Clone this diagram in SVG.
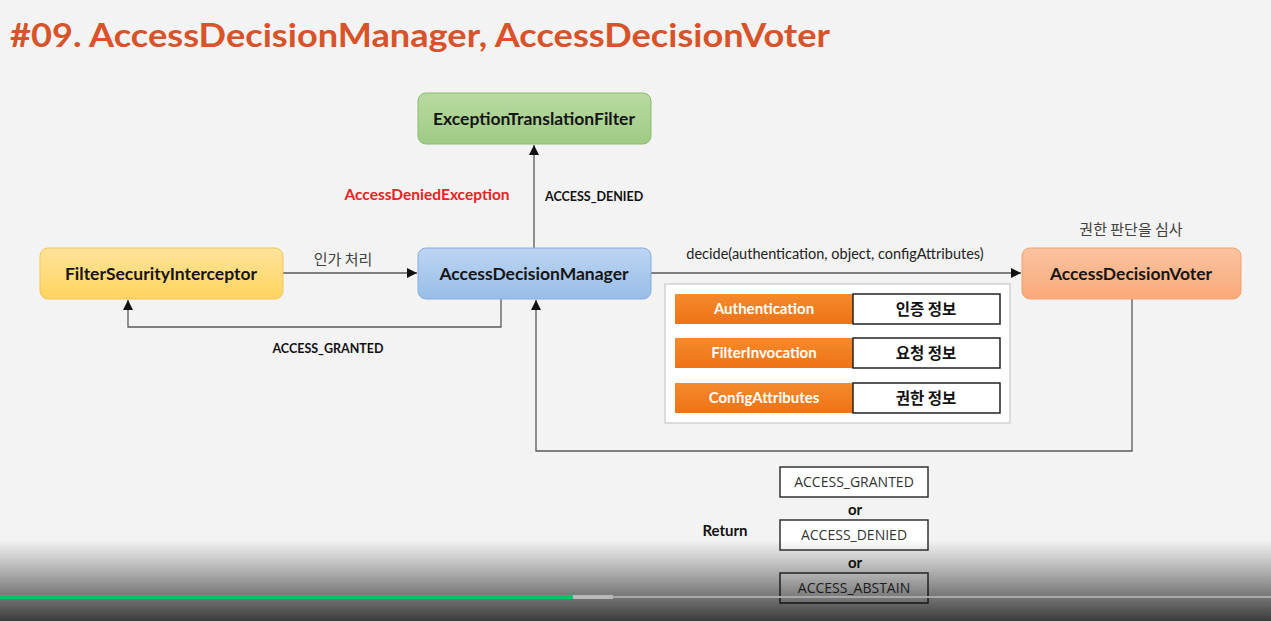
<svg xmlns="http://www.w3.org/2000/svg" width="1271" height="621" viewBox="0 0 1271 621">
<defs>
<style>
.t{font-family:Lato,"Liberation Sans","Noto Sans CJK KR",sans-serif;}
.b{font-weight:bold;}
.nt{font-family:Lato,"Liberation Sans",sans-serif;font-weight:bold;font-size:17.5px;fill:#151515;text-anchor:middle;}
.ln{fill:none;stroke:#595959;stroke-width:1.3;}
.kr{font-family:"Noto Sans CJK KR",sans-serif;}
.cell{fill:#fff;stroke:#222;stroke-width:1.5;}
.ret{fill:#fff;stroke:#333;stroke-width:1.5;}
.rt{font-family:"Open Sans","Liberation Sans",sans-serif;font-size:14px;fill:#333;text-anchor:middle;}
.ot{font-family:Lato,"Liberation Sans",sans-serif;font-weight:bold;font-size:15px;fill:#fff;text-anchor:middle;}
</style>
<linearGradient id="gY" x1="0" y1="0" x2="0" y2="1"><stop offset="0" stop-color="#FFE39A"/><stop offset="1" stop-color="#FFD45E"/></linearGradient>
<linearGradient id="gB" x1="0" y1="0" x2="0" y2="1"><stop offset="0" stop-color="#BDD5F2"/><stop offset="1" stop-color="#98BDE8"/></linearGradient>
<linearGradient id="gG" x1="0" y1="0" x2="0" y2="1"><stop offset="0" stop-color="#B9DAA2"/><stop offset="1" stop-color="#9FCB84"/></linearGradient>
<linearGradient id="gS" x1="0" y1="0" x2="0" y2="1"><stop offset="0" stop-color="#FBC3A0"/><stop offset="1" stop-color="#F9A97A"/></linearGradient>
<linearGradient id="gO" x1="0" y1="0" x2="0" y2="1"><stop offset="0" stop-color="#F58A2E"/><stop offset="1" stop-color="#EE7314"/></linearGradient>
<linearGradient id="gV" x1="0" y1="0" x2="0" y2="1"><stop offset="0" stop-color="#000" stop-opacity="0"/><stop offset="0.35" stop-color="#000" stop-opacity="0.25"/><stop offset="1" stop-color="#000" stop-opacity="0.75"/></linearGradient>
<marker id="ar" viewBox="0 0 10 10" refX="10" refY="5" markerWidth="10" markerHeight="10" markerUnits="userSpaceOnUse" orient="auto"><path d="M0,0 L10,5 L0,10 z" fill="#111"/></marker>
</defs>
<rect width="1271" height="621" fill="#F3F3F3"/>
<text class="t b" x="10" y="47" font-size="33" fill="#D8532A" textLength="820" lengthAdjust="spacingAndGlyphs">#09. AccessDecisionManager, AccessDecisionVoter</text>

<g id="connectors">
<line class="ln" x1="283" y1="273" x2="417" y2="273" marker-end="url(#ar)"/>
<polyline class="ln" points="501,299 501,327 128,327 128,300" marker-end="url(#ar)"/>
<line class="ln" x1="534" y1="248" x2="534" y2="145" marker-end="url(#ar)"/>
<line class="ln" x1="651" y1="273" x2="1021" y2="273" marker-end="url(#ar)"/>
<polyline class="ln" points="1132,299 1132,451 536,451 536,300" marker-end="url(#ar)"/>
<text class="kr" x="343" y="265" font-size="15" fill="#404040" text-anchor="middle">인가 처리</text>
<text class="t b" x="328" y="353" font-size="12.5" fill="#111" text-anchor="middle">ACCESS_GRANTED</text>
<text class="t b" x="545" y="201" font-size="12.5" fill="#111">ACCESS_DENIED</text>
<text class="t b" x="427" y="200" font-size="15.5" fill="#E8231F" text-anchor="middle">AccessDeniedException</text>
<text class="t" x="835" y="259" font-size="14.5" fill="#222" text-anchor="middle">decide(authentication, object, configAttributes)</text>
</g>

<g id="FilterSecurityInterceptor">
<rect x="40" y="248" width="243" height="51" rx="8" fill="url(#gY)" stroke="#F2C75A" stroke-width="1"/>
<text class="nt" x="161" y="280">FilterSecurityInterceptor</text>
</g>
<g id="AccessDecisionManager">
<rect x="418" y="248" width="233" height="51" rx="8" fill="url(#gB)" stroke="#86AEDD" stroke-width="1"/>
<text class="nt" x="534" y="280">AccessDecisionManager</text>
</g>
<g id="ExceptionTranslationFilter">
<rect x="418" y="93" width="233" height="51" rx="8" fill="url(#gG)" stroke="#8BBA73" stroke-width="1"/>
<text class="nt" x="534" y="125">ExceptionTranslationFilter</text>
</g>
<g id="AccessDecisionVoter">
<rect x="1022" y="248" width="219" height="51" rx="8" fill="url(#gS)" stroke="#F3A171" stroke-width="1"/>
<text class="nt" x="1131" y="280">AccessDecisionVoter</text>
<text class="kr" x="1131" y="235" font-size="15" fill="#404040" text-anchor="middle">권한 판단을 심사</text>
</g>

<g id="parameters">
<rect x="665" y="284" width="345" height="139" fill="#fff" stroke="#C8C8C8" stroke-width="1.2"/>
<rect x="675" y="294" width="178" height="30" fill="url(#gO)"/>
<rect class="cell" x="853" y="294" width="147" height="30"/>
<text class="ot" x="764" y="314">Authentication</text>
<text class="kr" x="926" y="315" font-size="15.5" font-weight="bold" fill="#111" text-anchor="middle">인증 정보</text>
<rect x="675" y="338" width="178" height="30" fill="url(#gO)"/>
<rect class="cell" x="853" y="338" width="147" height="30"/>
<text class="ot" x="764" y="358">FilterInvocation</text>
<text class="kr" x="926" y="359" font-size="15.5" font-weight="bold" fill="#111" text-anchor="middle">요청 정보</text>
<rect x="675" y="383" width="178" height="30" fill="url(#gO)"/>
<rect class="cell" x="853" y="383" width="147" height="30"/>
<text class="ot" x="764" y="403">ConfigAttributes</text>
<text class="kr" x="926" y="404" font-size="15.5" font-weight="bold" fill="#111" text-anchor="middle">권한 정보</text>
</g>

<g id="return">
<text class="t b" x="725" y="536" font-size="15" fill="#111" text-anchor="middle">Return</text>
<rect class="ret" x="780" y="467" width="148" height="30"/>
<text class="rt" x="854" y="487">ACCESS_GRANTED</text>
<text class="t b" x="855" y="515" font-size="15" fill="#111" text-anchor="middle">or</text>
<rect class="ret" x="780" y="520" width="148" height="30"/>
<text class="rt" x="854" y="540">ACCESS_DENIED</text>
<text class="t b" x="855" y="568" font-size="15" fill="#111" text-anchor="middle">or</text>
<rect class="ret" x="780" y="573" width="148" height="30"/>
<text class="rt" x="854" y="593">ACCESS_ABSTAIN</text>
</g>

<g id="player-overlay">
<rect x="0" y="540" width="1271" height="81" fill="url(#gV)"/>
<rect x="0" y="596" width="1271" height="2" fill="#A8A8A8"/>
<rect x="573" y="595" width="40" height="4" fill="#B8B8B8"/>
<rect x="0" y="595" width="573" height="4" fill="#00C46A"/>
</g>
</svg>
